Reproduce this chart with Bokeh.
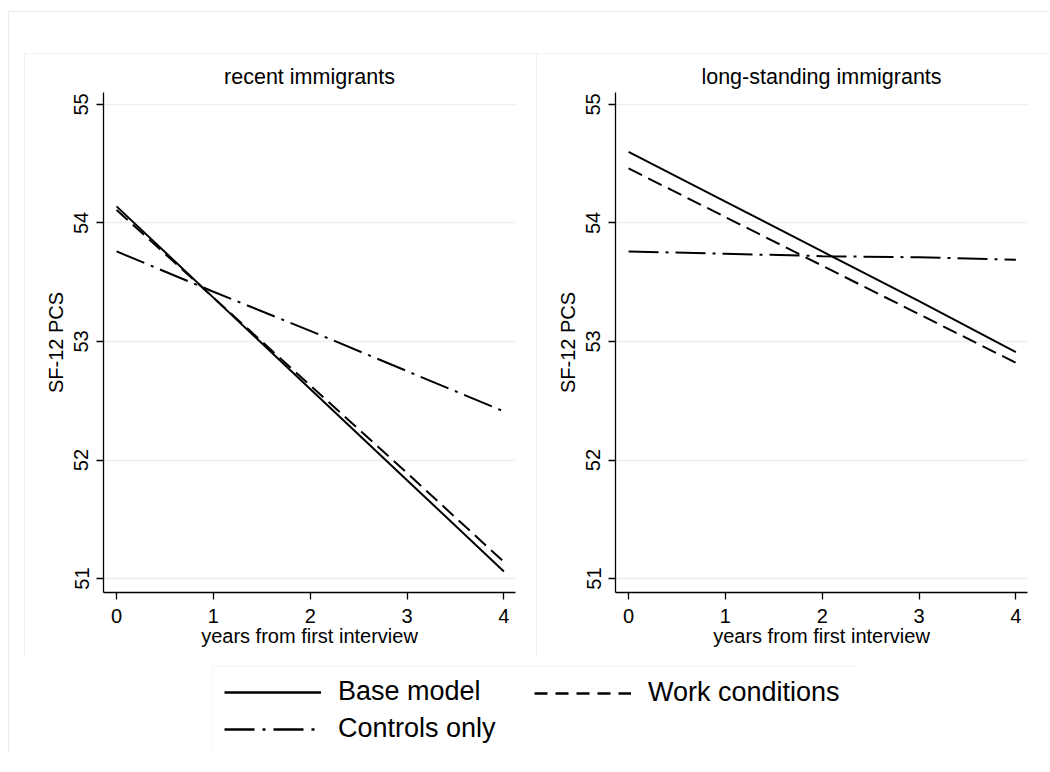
from bokeh.plotting import figure
from bokeh.models import Range1d, FixedTicker, Legend, LegendItem, Spacer
from bokeh.layouts import column, row
from bokeh.embed import file_html
from bokeh.resources import INLINE

# ---- data ----
years = [0, 1, 2, 3, 4]
recent_base = [54.14, 53.37, 52.60, 51.83, 51.06]
recent_work = [54.11, 53.37, 52.63, 51.89, 51.14]
recent_controls = [53.76, 53.42, 53.09, 52.75, 52.41]
long_base = [54.60, 54.18, 53.76, 53.34, 52.91]
long_work = [54.46, 54.05, 53.64, 53.23, 52.82]
long_controls = [53.76, 53.74, 53.72, 53.71, 53.69]
panel_titles = ["recent immigrants", "long-standing immigrants"]
series_names = ["Base model", "Work conditions", "Controls only"]
y_ticks = [51, 52, 53, 54, 55]
x_ticks = [0, 1, 2, 3, 4]
x_label = "years from first interview"
y_label = "SF-12 PCS"

FONT = "Liberation Sans"
BORDER = "#e6edee"
GRID = "#e8f0f1"
DASHES = ["solid", "15 7", "30 7 3 7"]
LEGEND_DASHES = ["solid", "13 8", "30 8 3 8"]


def panel(title, series, width, left, right):
    p = figure(width=width, height=604, x_range=Range1d(-0.135, 4.12),
               y_range=Range1d(50.882, 55.101), toolbar_location=None,
               output_backend="svg", min_border_left=left, min_border_right=right,
               min_border_top=39, min_border_bottom=65,
               background_fill_color="white", border_fill_color="white",
               outline_line_color=None,
               styles={"outline": "1px solid " + BORDER, "outline-offset": "-1px"})
    p.title.text = title
    p.title.align = "center"
    p.title.text_font = FONT
    p.title.text_font_size = "21.5px"
    p.title.text_font_style = "normal"
    p.title.text_color = "black"
    p.title.standoff = 7
    p.xgrid.visible = False
    p.ygrid.grid_line_color = GRID
    p.ygrid.grid_line_width = 1.5
    p.ygrid.ticker = FixedTicker(ticks=y_ticks)
    for ax in (p.xaxis, p.yaxis):
        ax.axis_line_color = "black"
        ax.axis_line_width = 1.3
        ax.major_tick_line_color = "black"
        ax.major_tick_line_width = 1.3
        ax.major_tick_out = 7
        ax.major_tick_in = 0
        ax.minor_tick_line_color = None
        ax.major_label_text_font = FONT
        ax.major_label_text_font_size = "20px"
        ax.major_label_text_color = "black"
        ax.axis_label_text_font = FONT
        ax.axis_label_text_font_size = "20px"
        ax.axis_label_text_font_style = "normal"
        ax.axis_label_text_color = "black"
    p.xaxis.ticker = FixedTicker(ticks=x_ticks)
    p.yaxis.ticker = FixedTicker(ticks=y_ticks)
    p.yaxis.major_label_orientation = "vertical"
    p.xaxis.axis_label = x_label
    p.yaxis.axis_label = y_label
    p.xaxis.major_label_standoff = 9
    p.xaxis.axis_label_standoff = -1
    p.yaxis.major_label_standoff = 8
    p.yaxis.axis_label_standoff = 5
    for vals, dash in zip(series, DASHES):
        p.line(years, vals, line_color="black", line_width=2, line_dash=dash)
    return p


p1 = panel(panel_titles[0], [recent_base, recent_work, recent_controls], 512, 79, 21)
p2 = panel(panel_titles[1], [long_base, long_work, long_controls], 512, 79, 21)

# legend box (its own small figure, whose outline is the legend frame)
leg = figure(width=645, height=87, x_range=Range1d(0, 1), y_range=Range1d(0, 1),
             toolbar_location=None, output_backend="svg", min_border=0,
             outline_line_color=None, border_fill_color="white",
             background_fill_color="white",
             styles={"outline": "1px solid " + BORDER, "outline-offset": "-1px"})
leg.axis.visible = False
leg.grid.visible = False
rends = []
for vals, dash in zip([recent_base, recent_work, recent_controls], LEGEND_DASHES):
    # data lie outside this figure's ranges: only the legend glyphs show
    rends.append(leg.line(years, vals, line_color="black", line_width=2.6, line_dash=dash))

common = dict(orientation="vertical", label_text_font=FONT, label_text_font_size="27px",
              label_text_color="black", glyph_width=97, glyph_height=30,
              label_height=30, label_standoff=17, spacing=6, padding=0, margin=0,
              border_line_color=None, background_fill_alpha=0)
legA = Legend(items=[LegendItem(label=series_names[0], renderers=[rends[0]]),
                     LegendItem(label=series_names[2], renderers=[rends[2]])],
              location=(12, 9), **common)
legB = Legend(items=[LegendItem(label=series_names[1], renderers=[rends[1]])],
              location=(322, 45), **common)
leg.add_layout(legA, "center")
leg.add_layout(legB, "center")

root = column(
    Spacer(height=53, width=10),
    row(Spacer(width=24, height=10), p1, p2),
    Spacer(height=9, width=10),
    row(Spacer(width=212, height=10), leg),
    styles={"background": "linear-gradient(%s,%s) 8px 11px/100%% 1px no-repeat, "
                          "linear-gradient(%s,%s) 8px 11px/1px 100%% no-repeat"
                          % (BORDER, BORDER, BORDER, BORDER)},
)

open("out.html", "w").write(file_html(root, INLINE))
